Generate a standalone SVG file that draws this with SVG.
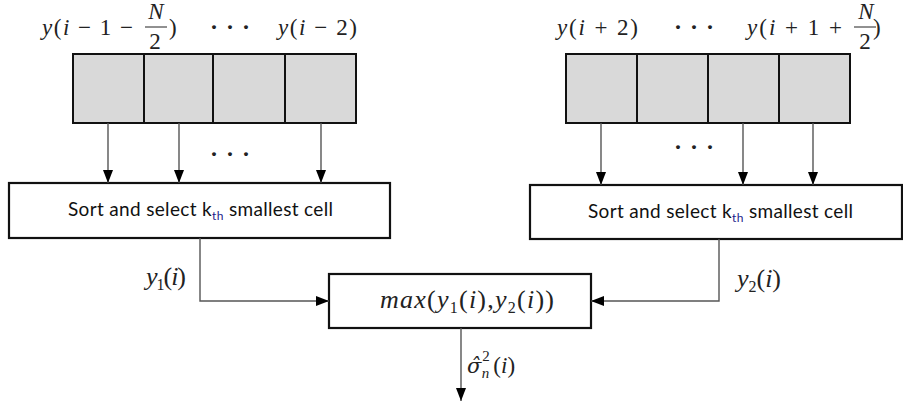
<svg xmlns="http://www.w3.org/2000/svg" width="903" height="405" viewBox="0 0 903 405">
  <style>
    .cell { fill: #d9d9d9; stroke: #111; stroke-width: 2; }
    .box { fill: #fff; stroke: #111; stroke-width: 2.2; }
    .wire { fill: none; stroke: #555; stroke-width: 1.4; }
    .math { font-family: "Liberation Serif", "Times New Roman", "DejaVu Serif", serif; font-size: 23px; fill: #222; }
    .big { font-size: 26px; }
    .it { font-style: italic; }
    .sub { font-size: 16px; }
    .tiny { font-size: 15px; }
    .accent { font-family: "DejaVu Serif", "Liberation Serif", serif; font-size: 21px; }
    .lbl { font-family: "Lato", "Open Sans", "Liberation Sans", sans-serif; font-size: 19px; fill: #111; }
    .lbl .sub { font-size: 12px; fill: #1a1a8a; }
    .dots { font-family: "Liberation Serif", "Times New Roman", serif; font-size: 24px; font-weight: bold; fill: #222; }
  </style>
  <defs>
    <marker id="arrow" viewBox="0 0 13 10" refX="13" refY="5" markerWidth="13" markerHeight="11" markerUnits="userSpaceOnUse" orient="auto">
      <path d="M0,0 L13,5 L0,10 Z" fill="#000"/>
    </marker>
  </defs>

  <!-- left sample window -->
  <g id="left-window">
    <rect class="cell" x="73" y="54" width="71" height="69"/>
    <rect class="cell" x="144" y="54" width="69" height="69"/>
    <rect class="cell" x="213" y="54" width="72" height="69"/>
    <rect class="cell" x="285" y="54" width="71" height="69"/>
    <text class="math" x="42" y="35" textLength="91"><tspan class="it">y</tspan>(<tspan class="it">i</tspan> − 1 −</text>
    <text class="math it" x="156" y="19" text-anchor="middle">N</text>
    <line x1="145" y1="27" x2="167" y2="27" stroke="#222" stroke-width="1"/>
    <text class="math" x="155" y="49" text-anchor="middle">2</text>
    <text class="math" x="169" y="35">)</text>
    <text class="dots" y="35"><tspan x="210">·</tspan><tspan x="226">·</tspan><tspan x="242">·</tspan></text>
    <text class="math" x="278" y="35" textLength="79"><tspan class="it">y</tspan>(<tspan class="it">i</tspan> − 2)</text>
  </g>

  <!-- right sample window -->
  <g id="right-window">
    <rect class="cell" x="566" y="54" width="71" height="69"/>
    <rect class="cell" x="637" y="54" width="71" height="69"/>
    <rect class="cell" x="708" y="54" width="71" height="69"/>
    <rect class="cell" x="779" y="54" width="71" height="69"/>
    <text class="math" x="557" y="35" textLength="81"><tspan class="it">y</tspan>(<tspan class="it">i</tspan> + 2)</text>
    <text class="dots" y="35"><tspan x="674">·</tspan><tspan x="690">·</tspan><tspan x="706">·</tspan></text>
    <text class="math" x="747" y="35" textLength="95"><tspan class="it">y</tspan>(<tspan class="it">i</tspan> + 1 +</text>
    <text class="math it" x="866" y="19" text-anchor="middle">N</text>
    <line x1="854" y1="27" x2="876" y2="27" stroke="#222" stroke-width="1"/>
    <text class="math" x="865" y="49" text-anchor="middle">2</text>
    <text class="math" x="873" y="35">)</text>
  </g>

  <!-- left sort block -->
  <g id="left-sort">
    <rect class="box" x="9" y="183" width="381" height="55"/>
    <text class="lbl" x="68" y="216" textLength="265">Sort and select k<tspan class="sub" dy="4">th</tspan><tspan dy="-4"> smallest cell</tspan></text>
  </g>

  <!-- right sort block -->
  <g id="right-sort">
    <rect class="box" x="530" y="185" width="372" height="54"/>
    <text class="lbl" x="588" y="218" textLength="265">Sort and select k<tspan class="sub" dy="4">th</tspan><tspan dy="-4"> smallest cell</tspan></text>
  </g>

  <!-- max combiner -->
  <g id="max-block">
    <rect class="box" x="329" y="274" width="262" height="54"/>
    <text class="math big" x="380" y="308" textLength="174"><tspan class="it">max</tspan>(<tspan class="it">y</tspan><tspan class="sub" dy="5">1</tspan><tspan dy="-5">(</tspan><tspan class="it">i</tspan>),<tspan class="it">y</tspan><tspan class="sub" dy="5">2</tspan><tspan dy="-5">(</tspan><tspan class="it">i</tspan>))</text>
  </g>

  <!-- connectors -->
  <g id="connectors">
    <line class="wire" x1="108" y1="123" x2="108" y2="183" marker-end="url(#arrow)"/>
    <line class="wire" x1="179" y1="123" x2="179" y2="183" marker-end="url(#arrow)"/>
    <line class="wire" x1="321" y1="123" x2="321" y2="183" marker-end="url(#arrow)"/>
    <text class="dots" y="162"><tspan x="210">·</tspan><tspan x="226">·</tspan><tspan x="242">·</tspan></text>

    <line class="wire" x1="601" y1="123" x2="601" y2="185" marker-end="url(#arrow)"/>
    <line class="wire" x1="743" y1="123" x2="743" y2="185" marker-end="url(#arrow)"/>
    <line class="wire" x1="813" y1="123" x2="813" y2="185" marker-end="url(#arrow)"/>
    <text class="dots" y="155"><tspan x="674">·</tspan><tspan x="690">·</tspan><tspan x="706">·</tspan></text>

    <polyline class="wire" points="200,238 200,301 329,301" marker-end="url(#arrow)"/>
    <polyline class="wire" points="719,239 719,301 591,301" marker-end="url(#arrow)"/>
    <line class="wire" x1="461" y1="328" x2="461" y2="401" marker-end="url(#arrow)"/>

    <text class="math big" x="146" y="285" textLength="40"><tspan class="it">y</tspan><tspan class="sub" dy="5">1</tspan><tspan dy="-5">(</tspan><tspan class="it">i</tspan>)</text>
    <text class="math big" x="737" y="287" textLength="44"><tspan class="it">y</tspan><tspan class="sub" dy="5">2</tspan><tspan dy="-5">(</tspan><tspan class="it">i</tspan>)</text>

    <text class="math" x="467" y="373"><tspan class="it accent">σ̂</tspan><tspan class="tiny" dx="1" dy="-12">2</tspan><tspan class="it tiny" dx="-8" dy="17">n</tspan><tspan dx="4" dy="-5">(</tspan><tspan class="it">i</tspan>)</text>
  </g>
</svg>
